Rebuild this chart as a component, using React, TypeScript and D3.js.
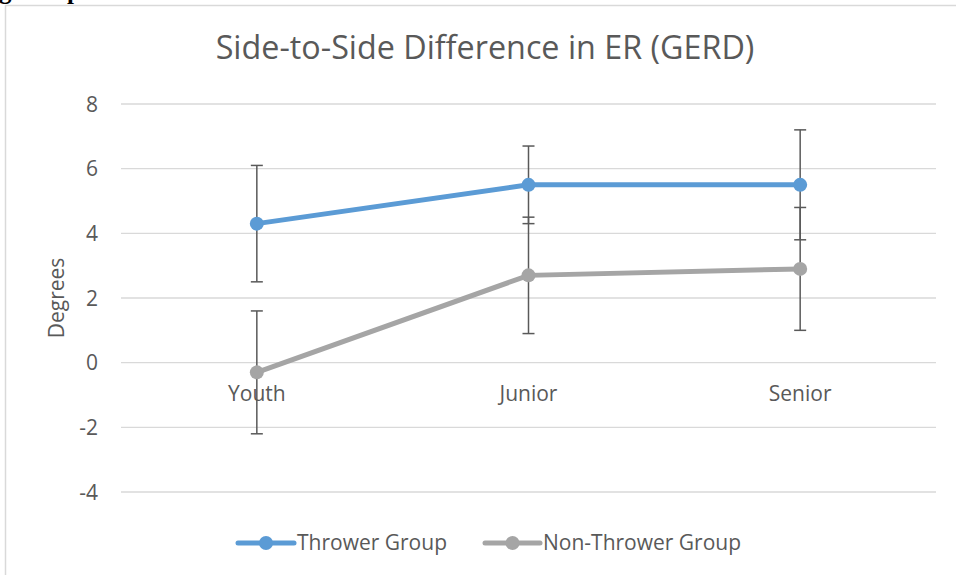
import React from "react";
import * as d3 from "d3";

const categories = ["Youth", "Junior", "Senior"];
const throwerValues = [4.3, 5.5, 5.5];
const throwerErrors = [1.8, 1.2, 1.7];
const nonThrowerValues = [-0.3, 2.7, 2.9];
const nonThrowerErrors = [1.9, 1.8, 1.9];
const yTicks = [-4, -2, 0, 2, 4, 6, 8];
const seriesNames = ["Thrower Group", "Non-Thrower Group"];

const W = 956;
const H = 575;
const FONT = "'Open Sans', 'Noto Sans', sans-serif";
const TXT = "#595959";

export default function App() {
  const x = d3.scaleBand<string>().domain(categories).range([121, 936]);
  const y = d3.scaleLinear().domain([-4, 8]).range([492, 104]);
  const cx = (c: string) => (x(c) as number) + x.bandwidth() / 2;

  const series = [
    { name: seriesNames[0], values: throwerValues, errors: throwerErrors, color: "#5b9bd5" },
    { name: seriesNames[1], values: nonThrowerValues, errors: nonThrowerErrors, color: "#a5a5a5" },
  ];

  const line = d3
    .line<number>()
    .x((_, i) => cx(categories[i]))
    .y((v) => y(v));

  const legendPos = [
    { x0: 238, x1: 294, tx: 297 },
    { x0: 485, x1: 540, tx: 543 },
  ];

  return (
    <svg
      width={W}
      height={H}
      style={{ position: "absolute", left: 0, top: 0, background: "#fff" }}
      fontFamily={FONT}
    >
      <rect x={0} y={0} width={W} height={H} fill="#fff" />
      <text x={-1} y={-1} fontFamily="'Liberation Serif', serif" fontWeight="bold" fontSize={25} fill="#000">
        g
      </text>
      <text x={67} y={-1} fontFamily="'Liberation Serif', serif" fontWeight="bold" fontSize={25} fill="#000">
        p
      </text>
      <rect x={5.5} y={5.5} width={1200} height={1200} fill="none" stroke="#d9d9d9" strokeWidth={1.5} />
      <text x={485} y={58.5} textAnchor="middle" fontSize={32.3} fill={TXT}>
        Side-to-Side Difference in ER (GERD)
      </text>
      {yTicks.map((t) => (
        <g key={t}>
          <line x1={121} x2={936} y1={y(t)} y2={y(t)} stroke="#d9d9d9" strokeWidth={1.3} />
          <text x={98} y={y(t) + 7.5} textAnchor="end" fontSize={21} fill={TXT}>
            {t}
          </text>
        </g>
      ))}
      <text
        transform={`translate(64,298) rotate(-90)`}
        textAnchor="middle"
        fontSize={21}
        fill={TXT}
      >
        Degrees
      </text>
      {categories.map((c) => (
        <text key={c} x={cx(c)} y={401} textAnchor="middle" fontSize={21} fill={TXT}>
          {c}
        </text>
      ))}
      {series.map((s) => (
        <g key={s.name + "eb"}>
          {s.values.map((v, i) => {
            const xx = cx(categories[i]);
            const top = y(v + s.errors[i]);
            const bot = y(v - s.errors[i]);
            return (
              <g key={i} stroke="#595959" strokeWidth={1.5}>
                <line x1={xx} x2={xx} y1={top} y2={bot} />
                <line x1={xx - 6} x2={xx + 6} y1={top} y2={top} />
                <line x1={xx - 6} x2={xx + 6} y1={bot} y2={bot} />
              </g>
            );
          })}
        </g>
      ))}
      {series.map((s) => (
        <g key={s.name}>
          <path d={line(s.values) || ""} fill="none" stroke={s.color} strokeWidth={5} strokeLinecap="round" />
          {s.values.map((v, i) => (
            <circle key={i} cx={cx(categories[i])} cy={y(v)} r={7} fill={s.color} />
          ))}
        </g>
      ))}
      {series.map((s, i) => {
        const p = legendPos[i];
        return (
          <g key={s.name + "lg"}>
            <line x1={p.x0} x2={p.x1} y1={543} y2={543} stroke={s.color} strokeWidth={5} strokeLinecap="round" />
            <circle cx={(p.x0 + p.x1) / 2} cy={543} r={7} fill={s.color} />
            <text x={p.tx} y={550} fontSize={21} fill={TXT}>
              {s.name}
            </text>
          </g>
        );
      })}
    </svg>
  );
}
